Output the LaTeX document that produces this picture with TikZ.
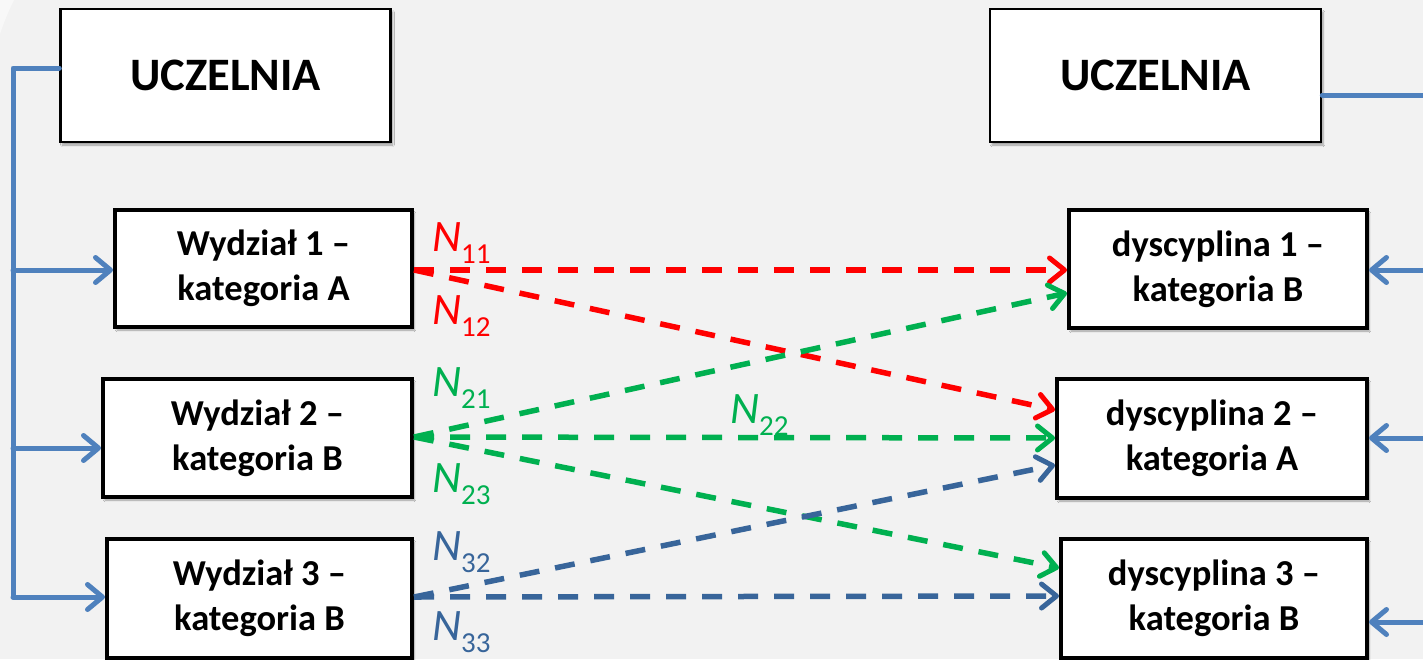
\documentclass[tikz,border=0pt]{standalone}
\usepackage{fontspec}
\setmainfont{Carlito}
\usetikzlibrary{arrows.meta,shadows.blur,calc}
\definecolor{bg}{HTML}{F2F2F2}
\definecolor{lblue}{HTML}{4F81BD}
\definecolor{dblue}{HTML}{38659A}
\definecolor{myred}{HTML}{FF0000}
\definecolor{mygreen}{HTML}{00B050}
\tikzset{
  boxshadow/.style={blur shadow={shadow xshift=2pt,shadow yshift=-3pt,shadow blur steps=6,shadow opacity=35}},
  topbox/.style={draw=black,line width=2.5pt,fill=white,boxshadow,inner sep=0pt,
    font=\fontsize{46.5}{50}\selectfont\bfseries},
  unitbox/.style={draw=black,line width=4pt,fill=white,boxshadow,inner sep=0pt,align=center,
    font=\fontsize{36.5}{45}\selectfont\bfseries},
  tree/.style={draw=lblue,line width=5pt,line cap=round,line join=round},
  treearrow/.style={tree,-{Straight Barb[length=15pt,width=25pt,line width=5pt,round]}},
  flow/.style={line width=5.5pt,dash pattern=on 20pt off 16pt,
    -{Straight Barb[length=15pt,width=24pt,line width=5pt,round]}},
  nlabel/.style={anchor=base west,inner sep=0pt,font=\fontsize{45}{50}\selectfont\itshape},
}
\newcommand{\Nlab}[1]{N\raisebox{-12pt}{\fontsize{29}{30}\selectfont\upshape #1}}
\begin{document}
\begin{tikzpicture}[x=1pt,y=-1pt]
\useasboundingbox (0,0) rectangle (1423,659);
\clip (0,0) rectangle (1423,659);
\fill[bg] (0,0) rectangle (1423,659);
\fill[white,opacity=0.5] (0,0) -- (14,0) .. controls (8,12) and (4,22) .. (0,34) -- cycle;

% boxes
\node[topbox,minimum width=330pt,minimum height=133pt] (U1) at (225.5,75.5) {UCZELNIA};
\node[topbox,minimum width=331pt,minimum height=133pt] (U2) at (1155.5,75.5) {UCZELNIA};
\node[unitbox,minimum width=297pt,minimum height=117pt] (W1) at (263.5,268.5) {Wydział 1 –\\kategoria A};
\node[unitbox,minimum width=309pt,minimum height=118pt] (W2) at (257.5,438) {Wydział 2 –\\kategoria B};
\node[unitbox,minimum width=305pt,minimum height=119pt] (W3) at (259.5,598.5) {Wydział 3 –\\kategoria B};
\node[unitbox,minimum width=298pt,minimum height=118pt] (D1) at (1218,269) {dyscyplina 1 –\\kategoria B};
\node[unitbox,minimum width=310pt,minimum height=119pt] (D2) at (1212,438.5) {dyscyplina 2 –\\kategoria A};
\node[unitbox,minimum width=306pt,minimum height=119pt] (D3) at (1214,598.5) {dyscyplina 3 –\\kategoria B};

% left tree
\coordinate (LT) at (13,68);
\coordinate (L1) at (13,270);
\coordinate (L2) at (13,448);
\coordinate (L3) at (13,597);
\draw[tree] ([yshift=7.5pt]U1.west) -- (LT) -- (L3);
\draw[treearrow] (L1) -- (L1 -| W1.west);
\draw[treearrow] (L2) -- (L2 -| W2.west);
\draw[treearrow] (L3) -- (L3 -| W3.west);

% right tree
\coordinate (RT) at (1440,95);
\coordinate (R1) at (1440,270);
\coordinate (R2) at (1440,438);
\coordinate (R3) at (1440,622);
\draw[tree] ([yshift=-19.5pt]U2.east) -- (RT) -- (R3);
\draw[treearrow] (R1) -- (R1 -| D1.east);
\draw[treearrow] (R2) -- (R2 -| D2.east);
\draw[treearrow] (R3) -- (R3 -| D3.east);

% flows
\draw[flow,myred] ([yshift=-1.5pt]W1.east) -- ([yshift=-1pt]D1.west);
\draw[flow,myred] ([yshift=-1.5pt]W1.east) -- ([yshift=28.5pt]D2.west);
\draw[flow,mygreen] ([yshift=1pt]W2.east) -- ([yshift=-24pt]D1.west);
\draw[flow,mygreen] ([yshift=1pt]W2.east) -- ([yshift=0.5pt]D2.west);
\draw[flow,mygreen] ([yshift=1pt]W2.east) -- ([yshift=30.5pt]D3.west);
\draw[flow,dblue] ([yshift=1.5pt]W3.east) -- ([yshift=-26.5pt]D2.west);
\draw[flow,dblue] ([yshift=1.5pt]W3.east) -- ([yshift=2.5pt]D3.west);

% labels
\node[nlabel,text=myred] (n11) at (432,251) {\Nlab{11}};
\node[nlabel,text=myred] (n12) at (432,324) {\Nlab{12}};
\node[nlabel,text=mygreen] (n21) at (432,396) {\Nlab{21}};
\node[nlabel,text=mygreen] (n22) at (730,423) {\Nlab{22}};
\node[nlabel,text=mygreen] (n23) at (432,492) {\Nlab{23}};
\node[nlabel,text=dblue] (n32) at (432,560) {\Nlab{32}};
\node[nlabel,text=dblue] (n33) at (432,640) {\Nlab{33}};
\end{tikzpicture}
\end{document}
